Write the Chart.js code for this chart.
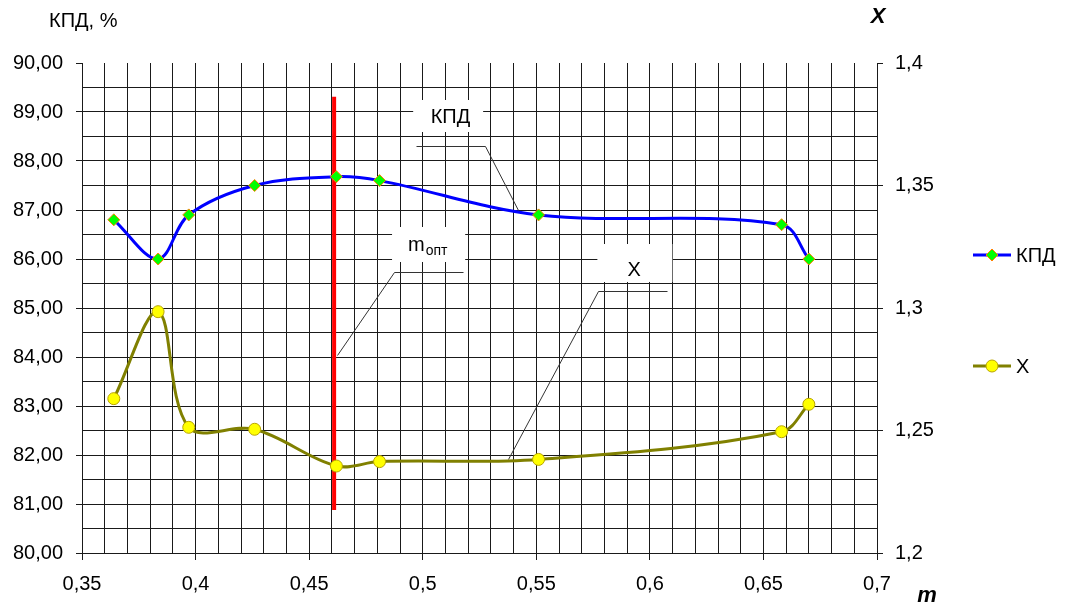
<!DOCTYPE html>
<html>
<head>
<meta charset="utf-8">
<script src="https://cdn.jsdelivr.net/npm/chart.js@4"></script>
<style>
  html, body { margin: 0; padding: 0; background: #ffffff; }
  canvas { display: block; }
</style>
</head>
<body>
<canvas id="chart" width="1066" height="604"></canvas>
<script>
// Blade parameter m and the measured curves
const mValues   = [0.364, 0.3835, 0.397, 0.426, 0.462, 0.481, 0.551, 0.658, 0.670];
const kpdValues = [86.8, 86.0, 86.9, 87.5, 87.68, 87.6, 86.9, 86.7, 86.0];
const chiValues = [1.263, 1.2985, 1.2513, 1.2505, 1.2355, 1.2373, 1.2382, 1.2495, 1.2607];

// Optimal m marker (vertical segment on the КПД axis)
const mOpt = 0.461;
const mOptSpan = [89.31, 80.88];

// Axis ranges and tick steps
const mRange = [0.35, 0.7];
const kpdRange = [80, 90];
const chiRange = [1.2, 1.4];
const mGridStep = 0.01, mLabelStep = 0.05;
const kpdGridStep = 0.5, kpdLabelStep = 1;
const chiStep = 0.05;

// Legend / label texts
const kpdName = 'КПД';
const chiName = 'X';
const kpdAxisTitle = 'КПД, %';
const chiAxisTitle = 'X';
const mAxisTitle = 'm';
const optLabel = 'm';
const optLabelSub = 'опт';

const FONT = '"Liberation Sans", Arial, sans-serif';
Chart.defaults.font.family = FONT;
Chart.defaults.color = '#000';

const BLUE = '#0000ff', OLIVE = '#808000', RED = '#ff0000';
const GREEN = '#00ff00', DIAMOND_EDGE = '#ff8000', YELLOW = '#ffff00', DOT_EDGE = '#b8a400';
const GRID = '#1a1a1a';
const TICK_FONT = 20;

const isMultiple = (v, step) => Math.abs(v / step - Math.round(v / step)) < 1e-6;
const comma = v => String(parseFloat(v.toFixed(4))).replace('.', ',');

// Callout boxes with leader lines (positions in m / КПД units)
const callouts = [
  { text: kpdName, cx: 0.5122, base: 88.769, size: 20,
    box: [0.4958, 0.5266, 89.245, 88.592],
    leader: [[0.4972, 88.306], [0.5276, 88.306], [0.5421, 87.0]] },
  { text: optLabel, sub: optLabelSub, cx: 0.5022, base: 86.163, size: 20,
    box: [0.4865, 0.5187, 86.653, 85.939],
    leader: [[0.5179, 85.741], [0.4875, 85.741], [0.4623, 84.04]] },
  { text: chiName, cx: 0.5931, base: 85.659, size: 20,
    box: [0.5769, 0.6099, 86.306, 85.531],
    leader: [[0.6077, 85.353], [0.5773, 85.353], [0.5377, 81.918]] }
];

function diamond(ctx, x, y, r) {
  ctx.beginPath();
  ctx.moveTo(x - r, y); ctx.lineTo(x, y - r); ctx.lineTo(x + r, y); ctx.lineTo(x, y + r);
  ctx.closePath();
  ctx.fillStyle = GREEN; ctx.fill();
  ctx.lineWidth = 1; ctx.strokeStyle = DIAMOND_EDGE; ctx.stroke();
}
function dot(ctx, x, y, r) {
  ctx.beginPath(); ctx.arc(x, y, r, 0, Math.PI * 2);
  ctx.fillStyle = YELLOW; ctx.fill();
  ctx.lineWidth = 1; ctx.strokeStyle = DOT_EDGE; ctx.stroke();
}

const decorations = {
  id: 'decorations',
  beforeDatasetsDraw(chart) {
    const { ctx, scales: { x, y } } = chart;
    ctx.save();
    callouts.forEach(c => {
      const x0 = x.getPixelForValue(c.box[0]), x1 = x.getPixelForValue(c.box[1]);
      const y0 = y.getPixelForValue(c.box[2]), y1 = y.getPixelForValue(c.box[3]);
      ctx.fillStyle = '#fff';
      ctx.fillRect(x0, y0, x1 - x0, y1 - y0);
      // leader line
      ctx.beginPath();
      c.leader.forEach((p, i) => {
        const px = Math.round(x.getPixelForValue(p[0])) + 0.5;
        const py = Math.round(y.getPixelForValue(p[1])) + 0.5;
        if (i === 0) ctx.moveTo(px, py); else ctx.lineTo(px, py);
      });
      ctx.strokeStyle = '#333'; ctx.lineWidth = 1; ctx.stroke();
      // text
      const cx = x.getPixelForValue(c.cx), by = y.getPixelForValue(c.base);
      ctx.fillStyle = '#000';
      ctx.textBaseline = 'alphabetic';
      ctx.font = c.size + 'px ' + FONT;
      if (c.sub) {
        const w1 = ctx.measureText(c.text).width;
        ctx.font = '14px ' + FONT;
        const w2 = ctx.measureText(c.sub).width;
        const left = cx - (w1 + w2 + 1) / 2;
        ctx.textAlign = 'left';
        ctx.font = c.size + 'px ' + FONT;
        ctx.fillText(c.text, left, by);
        ctx.font = '14px ' + FONT;
        ctx.fillText(c.sub, left + w1 + 1, by + 3.5);
      } else {
        ctx.textAlign = 'center';
        ctx.fillText(c.text, cx, by);
      }
    });
    ctx.restore();
  },
  afterDraw(chart) {
    const { ctx } = chart;
    ctx.save();
    // axis titles
    ctx.fillStyle = '#000';
    ctx.textBaseline = 'alphabetic';
    ctx.textAlign = 'left';
    ctx.font = '20px ' + FONT;
    ctx.fillText(kpdAxisTitle, 49, 27);
    ctx.textAlign = 'center';
    ctx.font = 'italic bold 22px ' + FONT;
    ctx.fillText(chiAxisTitle, 878, 23);
    ctx.fillText(mAxisTitle, 927, 602);
    // legend
    const items = [
      { y: 255, color: BLUE, mark: 'diamond', text: kpdName },
      { y: 366, color: OLIVE, mark: 'dot', text: chiName }
    ];
    items.forEach(it => {
      ctx.beginPath();
      ctx.moveTo(973, it.y); ctx.lineTo(1011, it.y);
      ctx.strokeStyle = it.color; ctx.lineWidth = 3; ctx.stroke();
      if (it.mark === 'diamond') diamond(ctx, 992, it.y, 6); else dot(ctx, 992, it.y, 6);
      ctx.fillStyle = '#000';
      ctx.font = '20px ' + FONT;
      ctx.textAlign = 'left';
      ctx.textBaseline = 'middle';
      ctx.fillText(it.text, 1016, it.y + 1.5);
    });
    ctx.restore();
  }
};

const toPoints = (xs, ys) => xs.map((m, i) => ({ x: m, y: ys[i] }));

new Chart(document.getElementById('chart'), {
  type: 'line',
  data: {
    datasets: [
      {
        label: kpdName,
        data: toPoints(mValues, kpdValues),
        yAxisID: 'y',
        borderColor: BLUE,
        borderWidth: 3,
        tension: 0.35,
        pointStyle: 'rectRot',
        pointRadius: 6,
        pointBackgroundColor: GREEN,
        pointBorderColor: DIAMOND_EDGE,
        pointBorderWidth: 1,
        order: 1
      },
      {
        label: chiName,
        data: toPoints(mValues, chiValues),
        yAxisID: 'y1',
        borderColor: OLIVE,
        borderWidth: 3,
        tension: 0.35,
        pointStyle: 'circle',
        pointRadius: 6,
        pointBackgroundColor: YELLOW,
        pointBorderColor: DOT_EDGE,
        pointBorderWidth: 1,
        order: 2
      },
      {
        label: optLabel + optLabelSub,
        data: [{ x: mOpt, y: mOptSpan[0] }, { x: mOpt, y: mOptSpan[1] }],
        yAxisID: 'y',
        borderColor: RED,
        borderWidth: 4,
        borderCapStyle: 'butt',
        pointRadius: 0,
        tension: 0,
        order: 3
      }
    ]
  },
  options: {
    responsive: false,
    animation: false,
    devicePixelRatio: 1,
    layout: { padding: { top: 63, left: 0, right: 0, bottom: 0 } },
    plugins: {
      legend: { display: false },
      tooltip: { enabled: false },
      title: { display: false }
    },
    scales: {
      x: {
        type: 'linear',
        min: mRange[0], max: mRange[1],
        afterFit(s) { s.height = 51; },
        border: { display: true, color: GRID, width: 1 },
        grid: {
          color: GRID, lineWidth: 1, drawTicks: true, tickLength: 7,
          tickColor: c => isMultiple(c.tick.value, mLabelStep) ? GRID : 'rgba(0,0,0,0)'
        },
        ticks: {
          stepSize: mGridStep, autoSkip: false, maxRotation: 0, minRotation: 0,
          padding: 12, font: { size: TICK_FONT },
          callback: v => isMultiple(v, mLabelStep) ? comma(v) : ''
        }
      },
      y: {
        type: 'linear', position: 'left',
        min: kpdRange[0], max: kpdRange[1],
        afterFit(s) { s.width = 82; },
        border: { display: true, color: GRID, width: 1 },
        grid: {
          color: c => (c.tick && Math.abs(c.tick.value - kpdRange[1]) < 1e-9) ? 'rgba(0,0,0,0)' : GRID,
          lineWidth: 1, drawTicks: true, tickLength: 6,
          tickColor: c => isMultiple(c.tick.value, kpdLabelStep) ? GRID : 'rgba(0,0,0,0)'
        },
        ticks: {
          stepSize: kpdGridStep, autoSkip: false, padding: 13, font: { size: TICK_FONT },
          callback: v => isMultiple(v, kpdLabelStep) ? v.toFixed(2).replace('.', ',') : ''
        }
      },
      y1: {
        type: 'linear', position: 'right',
        min: chiRange[0], max: chiRange[1],
        afterFit(s) { s.width = 189; },
        border: { display: true, color: GRID, width: 1 },
        grid: { drawOnChartArea: false, drawTicks: true, tickLength: 6, tickColor: GRID },
        ticks: {
          stepSize: chiStep, autoSkip: false, padding: 12, font: { size: TICK_FONT },
          callback: v => comma(v)
        }
      }
    }
  },
  plugins: [decorations]
});
</script>
</body>
</html>
